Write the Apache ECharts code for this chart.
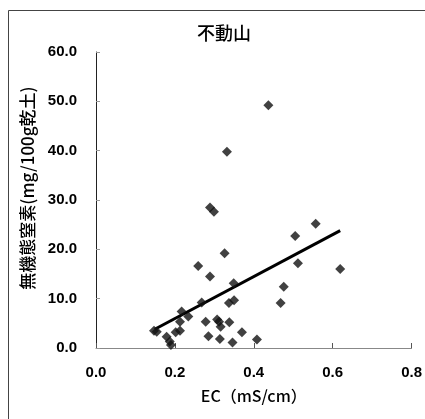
<!DOCTYPE html>
<html><head><meta charset="utf-8">
<script src="https://cdn.jsdelivr.net/npm/echarts@6/dist/echarts.min.js"></script>
<style>html,body{margin:0;padding:0;background:#fff}#c{width:425px;height:419px}</style>
</head><body><div id="c"></div>
<script>
const ecValues = [0.437,0.332,0.289,0.299,0.557,0.505,0.326,0.512,0.259,0.289,0.349,0.476,0.468,0.350,0.337,0.268,0.217,0.234,0.213,0.278,0.307,0.312,0.316,0.338,0.147,0.154,0.213,0.202,0.179,0.285,0.370,0.314,0.346,0.408,0.187,0.190,0.619];
const nValues  = [49.2,39.8,28.5,27.6,25.2,22.7,19.2,17.2,16.6,14.5,13.1,12.4,9.1,9.7,9.1,9.2,7.4,6.4,5.3,5.3,5.8,5.3,4.3,5.2,3.5,3.3,3.5,3.2,2.3,2.4,3.2,1.8,1.1,1.7,1.3,0.6,16.0];
const trendX = [0.149, 0.619];
const trendY = [3.8, 23.8];
const xTicks = [0.0,0.2,0.4,0.6,0.8];
const yTicks = [0,10,20,30,40,50,60];
const titleText = '不動山';
const xName = 'EC（mS/cm）';
const yName = '無機態窒素(mg/100g乾土)';

const points = ecValues.map((x,i)=>[x,nValues[i]]);
const trend = trendX.map((x,i)=>[x,trendY[i]]);
const numFont = 'Liberation Sans, Arial, sans-serif';
const jpFont = '"Noto Sans CJK JP", sans-serif';

const chart = echarts.init(document.getElementById('c'), null, {renderer:'canvas'});
chart.setOption({
  animation:false,
  backgroundColor:'#fff',
  title:{text:titleText, left:219, top:19, textAlign:'center',
    textStyle:{fontFamily:jpFont, fontSize:18, fontWeight:500, color:'#000'}},
  graphic:[
    {type:'rect', shape:{x:8.5,y:10.5,width:440,height:440}, style:{fill:'none', stroke:'#444', lineWidth:1}, silent:true},
    {type:'text', x:28, y:188, rotation:Math.PI/2, silent:true,
      style:{text:yName, align:'center', verticalAlign:'middle', fontFamily:jpFont, fontSize:17, fontWeight:500, fill:'#000'}}
  ],
  grid:{left:96, right:13, top:52, bottom:71},
  xAxis:{type:'value', min:0, max:0.8, interval:0.2,
    name:xName, nameLocation:'middle', nameGap:40,
    nameTextStyle:{fontFamily:jpFont, fontSize:16, fontWeight:500, color:'#000'},
    axisLine:{lineStyle:{color:'#888', width:1}},
    axisTick:{inside:true, length:5, lineStyle:{color:'#555'}},
    axisLabel:{margin:17, fontFamily:numFont, fontSize:15, fontWeight:'bold', color:'#000',
      formatter:v=>v.toFixed(1)},
    splitLine:{show:false}},
  yAxis:{type:'value', min:0, max:60, interval:10,
    axisLine:{show:true, lineStyle:{color:'#222', width:1}},
    axisTick:{show:true, inside:true, length:4, lineStyle:{color:'#999'}},
    axisLabel:{margin:19, fontFamily:numFont, fontSize:15, fontWeight:'bold', color:'#000',
      formatter:v=>v.toFixed(1)},
    splitLine:{show:false}},
  series:[
    {type:'scatter', data:points, symbol:'diamond', symbolSize:10,
      itemStyle:{color:'#111'}, z:3},
    {type:'line', data:trend, symbol:'none', lineStyle:{color:'#000', width:3}, z:2}
  ]
});
</script></body></html>
